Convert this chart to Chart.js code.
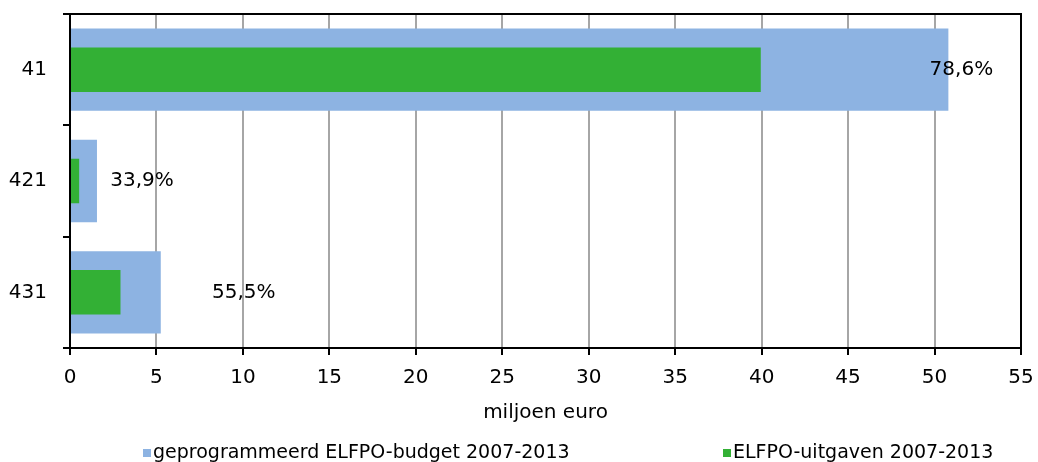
<!DOCTYPE html>
<html>
<head>
<meta charset="utf-8">
<script src="https://cdn.jsdelivr.net/npm/chart.js"></script>
<style>
  body { margin: 0; background: #fff; font-family: "DejaVu Sans", Verdana, sans-serif; }
  #wrap { position: relative; width: 1038px; height: 462px; }
  .legend { position: absolute; top: 440px; font-size: 19px; color: #000; white-space: nowrap; line-height: 22px; }
  .legend span.box { display: inline-block; width: 8px; height: 8px; margin-right: 2px; vertical-align: 1px; }
</style>
</head>
<body>
<div id="wrap">
  <canvas id="chart" width="1038" height="462"></canvas>
  <div class="legend" style="left:143px"><span class="box" style="background:#8db3e2"></span>geprogrammeerd ELFPO-budget 2007-2013</div>
  <div class="legend" style="left:723px"><span class="box" style="background:#33b035"></span>ELFPO-uitgaven 2007-2013</div>
</div>
<script>
// data
const categories = ['41', '421', '431'];
const budget = [50.8, 1.56, 5.25];
const spending = [39.95, 0.53, 2.92];
const pctLabels = ['78,6%', '33,9%', '55,5%'];
const xTicks = [0, 5, 10, 15, 20, 25, 30, 35, 40, 45, 50, 55];

const FONT = '"DejaVu Sans", Verdana, sans-serif';
// horizontal shift (px) of each percentage label from the end of its budget bar
const labelShift = [13, 45, 83];

const pctPlugin = {
  id: 'pctLabels',
  afterDatasetsDraw(chart) {
    const ctx = chart.ctx;
    const meta = chart.getDatasetMeta(0);
    ctx.save();
    ctx.font = '20px ' + FONT;
    ctx.fillStyle = '#000';
    ctx.textAlign = 'center';
    ctx.textBaseline = 'middle';
    meta.data.forEach((bar, i) => {
      ctx.fillText(pctLabels[i], bar.x + labelShift[i], bar.y);
    });
    ctx.restore();
  }
};

const borderPlugin = {
  id: 'plotBorder',
  afterDraw(chart) {
    const a = chart.chartArea;
    const ctx = chart.ctx;
    ctx.save();
    ctx.strokeStyle = '#000';
    ctx.lineWidth = 2;
    ctx.beginPath();
    ctx.moveTo(a.left, a.top);
    ctx.lineTo(a.right, a.top);
    ctx.lineTo(a.right, a.bottom);
    ctx.stroke();
    ctx.restore();
  }
};

new Chart(document.getElementById('chart'), {
  type: 'bar',
  data: {
    labels: categories,
    datasets: [
      {
        label: 'geprogrammeerd ELFPO-budget 2007-2013',
        data: budget,
        backgroundColor: '#8db3e2',
        barPercentage: 0.74,
        categoryPercentage: 1,
        order: 2
      },
      {
        label: 'ELFPO-uitgaven 2007-2013',
        data: spending,
        backgroundColor: '#33b035',
        barPercentage: 0.4,
        categoryPercentage: 1,
        order: 1
      }
    ]
  },
  options: {
    indexAxis: 'y',
    responsive: false,
    animation: false,
    layout: { padding: { top: 14, right: 17, bottom: 24, left: 0 } },
    plugins: {
      legend: { display: false },
      tooltip: { enabled: false }
    },
    scales: {
      y: {
        stacked: true,
        offset: true,
        afterFit(scale) { scale.width = 70; scale.paddingTop = 0; scale.paddingBottom = 0; },
        border: { color: '#000', width: 2 },
        grid: { offset: true, drawOnChartArea: false, tickLength: 7, color: '#000', lineWidth: 2 },
        ticks: { color: '#000', padding: 16, font: { family: FONT, size: 20 } }
      },
      x: {
        stacked: false,
        min: 0,
        max: 55,
        afterBuildTicks(scale) { scale.ticks = xTicks.map(v => ({ value: v })); },
        afterFit(scale) { scale.height = 90; scale.paddingLeft = 0; scale.paddingRight = 0; },
        border: { color: '#000', width: 2 },
        grid: { color: '#a6a6a6', lineWidth: 2, tickLength: 7, tickColor: '#000' },
        ticks: { color: '#000', padding: 11, maxRotation: 0, font: { family: FONT, size: 20 } },
        title: {
          display: true,
          text: 'miljoen euro',
          color: '#000',
          font: { family: FONT, size: 20 },
          padding: { top: 4, bottom: 13 }
        }
      }
    }
  },
  plugins: [pctPlugin, borderPlugin]
});
</script>
</body>
</html>
